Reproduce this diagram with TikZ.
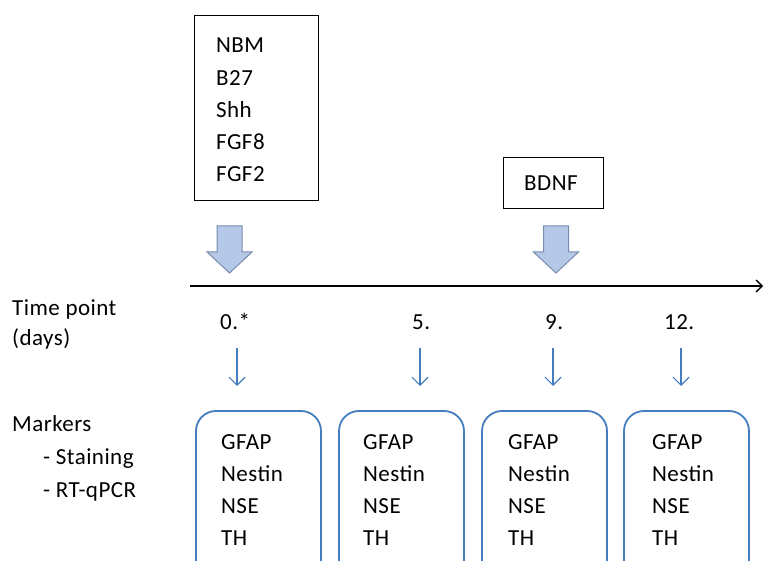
\documentclass[tikz,border=0pt]{standalone}
\usepackage{fontspec}
\setmainfont{Carlito}[LetterSpace=2]
\usetikzlibrary{arrows.meta}

\definecolor{markerblue}{RGB}{70,125,190}
\definecolor{supplyfill}{RGB}{182,200,232}
\definecolor{supplyedge}{RGB}{120,140,175}

\tikzset{
  txt/.style={anchor=base west, inner sep=0pt, font=\fontsize{23}{32.3}\selectfont},
  plainbox/.style={draw=black, line width=1.4pt},
  markerbox/.style={draw=markerblue, line width=1.8pt, rounded corners=20pt},
  sample/.style={draw=markerblue, line width=1.2pt, -{Straight Barb[length=8pt, width=16pt, line width=1.2pt]}},
  supply/.style={fill=supplyfill, draw=supplyedge, line width=1pt},
}

\newcommand{\blockarrow}[2]{% centre x, name
  \draw[supply] (#1-12.5,226) -- (#1+12.5,226) -- (#1+12.5,252) -- (#1+22.5,252)
    -- (#1,273) -- (#1-22.5,252) -- (#1-12.5,252) -- cycle;
  \coordinate (#2) at (#1,273);
}

\begin{document}
\begin{tikzpicture}[x=1pt, y=-1pt]
  \useasboundingbox (0,0) rectangle (764,561);
  \clip (0,0) rectangle (764,561);

  % supplements added at day 0 and day 9 (multi-line nodes sit on their last baseline)
  \node[plainbox, minimum width=124pt, minimum height=185pt, anchor=north west] (medium) at (194,15) {};
  \node[txt, align=left] (mediumtxt) at (216,182) {NBM\\B27\\Shh\\FGF8\\FGF2};
  \node[plainbox, minimum width=100pt, minimum height=51pt, anchor=north west] (bdnfbox) at (503,157) {};
  \node[txt] (bdnf) at (524,191) {BDNF};

  \blockarrow{229.5}{tip0}
  \blockarrow{556}{tip9}

  % time axis
  \coordinate (axisstart) at (190,286);
  \coordinate (axisend) at (763,286);
  \draw[line width=1.3pt, -{Straight Barb[length=6pt, width=12pt, line width=1.3pt]}] (axisstart) -- (axisend);

  % row labels
  \node[txt] (timelbl) at (12,316) {Time point};
  \node[txt] (dayslbl) at (12,346) {(days)};
  \node[txt] (markerslbl) at (12,432) {Markers};
  \node[txt] (staining) at (43,465) {- Staining};
  \node[txt] (rtqpcr) at (43,498) {- RT-qPCR};

  % time points
  \node[txt] (d0) at (220,330) {0.*};
  \node[txt] (d5) at (412,330) {5.};
  \node[txt] (d9) at (545,330) {9.};
  \node[txt] (d12) at (664,330) {12.};

  % sampling arrows and marker boxes
  \foreach \n/\cx/\bx/\tx in {a/237/196/221, b/420/339/363, c/553/482/508, d/681/624/652} {
    \coordinate (s\n) at (\cx,348);
    \coordinate (e\n) at (\cx,386);
    \draw[sample] (s\n) -- (e\n);
    \draw[markerbox] (\bx,600) -- (\bx,411) -- (\bx+125,411) -- (\bx+125,600);
    \node[txt, align=left] (m\n) at (\tx,546) {GFAP\\Nestin\\NSE\\TH};
  }
\end{tikzpicture}
\end{document}
